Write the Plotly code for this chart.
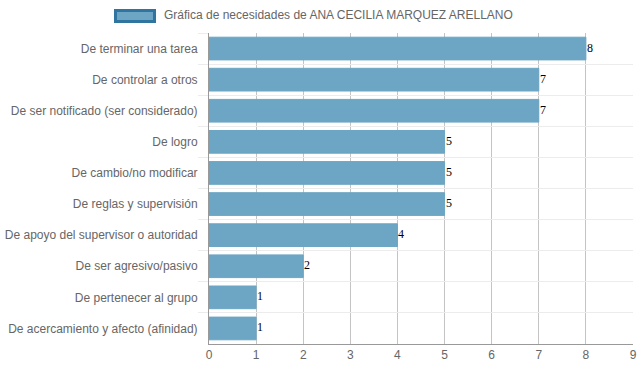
import plotly.graph_objects as go

categories = [
    "De terminar una tarea",
    "De controlar a otros",
    "De ser notificado (ser considerado)",
    "De logro",
    "De cambio/no modificar",
    "De reglas y supervisión",
    "De apoyo del supervisor o autoridad",
    "De ser agresivo/pasivo",
    "De pertenecer al grupo",
    "De acercamiento y afecto (afinidad)",
]
values = [8, 7, 7, 5, 5, 5, 4, 2, 1, 1]
series_name = "Gráfica de necesidades de ANA CECILIA MARQUEZ ARELLANO"
x_ticks = list(range(0, 10))

fig = go.Figure()
fig.add_trace(go.Bar(
    y=categories, x=values, orientation="h", name=series_name,
    marker=dict(color="rgba(108,166,196,1)", line=dict(color="rgba(108,166,196,1)", width=1)),
    showlegend=False, hoverinfo="skip",
))

for c, v in zip(categories, values):
    fig.add_annotation(x=v, y=c, text=str(v), showarrow=False,
                       xanchor="left", yanchor="middle", xshift=-1, yshift=1,
                       font=dict(family="Liberation Serif", size=12, color="#000"))

fig.update_layout(
    width=639, height=372,
    margin=dict(l=209, r=6, t=33, b=28),
    paper_bgcolor="white", plot_bgcolor="white",
    bargap=0.27,
    font=dict(family="Liberation Sans, Arial, sans-serif", size=12, color="#666"),
    showlegend=False,
)
fig.update_xaxes(
    range=[0, 9], tickvals=x_ticks, ticktext=[str(t) for t in x_ticks],
    showgrid=True, gridcolor="#c4c4c4", gridwidth=1,
    zeroline=False, showline=True, linecolor="#999", linewidth=1,
    ticks="", tickfont=dict(size=12, color="#666"), automargin=False,
)
fig.update_yaxes(
    autorange="reversed", tickson="boundaries",
    showgrid=True, gridcolor="#ececec", gridwidth=1,
    showline=True, linecolor="#999", linewidth=1,
    ticks="outside", ticklen=10, tickcolor="#ececec",
    ticklabelstandoff=8,
    tickfont=dict(size=12, color="#666"), automargin=False,
)

# legend drawn as a box + label (Chart.js style); plot area spans 209..633 x 33..344 px
fig.add_shape(type="rect", xref="paper", yref="paper",
              x0=-0.2205, x1=-0.1285, y0=1.037, y1=1.0723,
              fillcolor="rgba(108,166,196,1)", line=dict(color="#2f75a0", width=3))
fig.add_annotation(xref="paper", yref="paper", x=-0.1108, y=1.0579,
                   xanchor="left", yanchor="middle", showarrow=False,
                   text=series_name, font=dict(size=12, color="#666"))

fig.write_html("out.html", config={"displayModeBar": False},
               post_script="document.body.style.margin='0';document.body.style.overflow='hidden';")
